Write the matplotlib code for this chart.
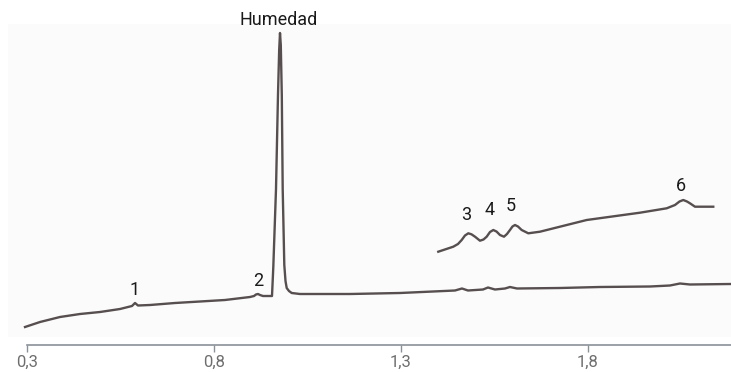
import matplotlib
matplotlib.use("Agg")
import matplotlib.pyplot as plt
from matplotlib.patches import Rectangle

plt.rcParams['font.family'] = ['Roboto', 'DejaVu Sans']

# Main chromatogram trace (time in min, signal arbitrary units)
main_time = [0.2947, 0.3348, 0.3882, 0.4417, 0.4952, 0.5487, 0.5807, 0.5888, 0.5968,
             0.6289, 0.6957, 0.7626, 0.8294, 0.8963, 0.9070, 0.9123, 0.9177, 0.9230,
             0.9310, 0.9551,
             0.9586, 0.9658, 0.9711, 0.9743, 0.9765, 0.9786, 0.9813, 0.9837, 0.9880,
             0.9912, 0.9944, 1.0005, 1.0078,
             1.0299, 1.1636, 1.2973, 1.4444, 1.4631, 1.4791, 1.5193,
             1.5326, 1.5513, 1.5781, 1.5914, 1.6102, 1.7251, 1.8321, 1.9658, 2.0193,
             2.0460, 2.0727, 2.1824]
main_signal = [18, 23, 28, 31, 33, 36, 39, 42, 39.5,
               40, 42, 43.5, 45, 48, 49, 50.5, 51, 50,
               49, 49,
               78, 156, 250, 295, 312, 300, 250, 156, 80,
               64, 57, 54, 52,
               51, 51, 52, 54.5, 56.5, 54.5, 55.5,
               57.5, 55.5, 56.5, 58, 56.5, 57, 58, 58.5, 59.5,
               61.5, 60.5, 61]

# Expanded (zoomed) trace of the later region
zoom_time = [1.3997, 1.4398, 1.4524, 1.4623, 1.4711, 1.4800, 1.4885, 1.4979, 1.5112,
             1.5206, 1.5291, 1.5380, 1.5468, 1.5553, 1.5647, 1.5754, 1.5834, 1.5914,
             1.5981, 1.6048, 1.6128, 1.6227, 1.6404, 1.6717, 1.7965, 1.9390, 2.0104,
             2.0326, 2.0447, 2.0548, 2.0647, 2.0727, 2.0861, 2.1350]
zoom_signal = [93.3, 98.3, 101, 105, 109.5, 111.7, 110.7, 108.3, 104.3,
               105.5, 108.3, 113, 115, 113.5, 110, 108.3, 111, 115,
               118.5, 120, 118.5, 115, 111.7, 113.3, 125, 132.3, 136.7,
               140, 143.5, 145, 143.5, 141.7, 138.3, 138.3]

# Peak labels
label_texts = ["1", "2", "Humedad", "3", "4", "5", "6"]
label_time = [0.5888, 0.9185, 0.9725, 1.4738, 1.538, 1.594, 2.049]
label_signal = [55, 64, 325, 130, 135, 139, 159]

tick_values = [0.3, 0.8, 1.3, 1.8]
tick_labels = ["0,3", "0,8", "1,3", "1,8"]

W, H = 731, 372
fig = plt.figure(figsize=(W / 100, H / 100), dpi=100)
fig.patch.set_facecolor('white')

ax = fig.add_axes([8 / W, (H - 345) / H, 723 / W, 345 / H])
ax.set_facecolor('none')
ax.set_xlim(0.2492, 2.1824)
ax.set_ylim(0, 345)

# light grey panel behind the trace
ax.add_patch(Rectangle((8 / W, (H - 337) / H), 723 / W, 313 / H,
                       transform=fig.transFigure, facecolor='#fbfbfb',
                       edgecolor='none', zorder=0, clip_on=False))

line_color = '#574f4f'
ax.plot(main_time, main_signal, color=line_color, lw=1.7, solid_joinstyle='round', zorder=2)
ax.plot(zoom_time, zoom_signal, color=line_color, lw=1.7, solid_joinstyle='round', zorder=2)

for txt, t, s in zip(label_texts, label_time, label_signal):
    ax.text(t, s, txt, ha='center', va='center', fontsize=13, color='#1a1a1a', zorder=3)

for side in ['top', 'right', 'left']:
    ax.spines[side].set_visible(False)
ax.spines['bottom'].set_color('#8a9197')
ax.spines['bottom'].set_linewidth(1.2)
ax.spines['bottom'].set_bounds(0.3, 2.1824)
ax.set_yticks([])
ax.set_xticks(tick_values)
ax.set_xticklabels(tick_labels)
ax.tick_params(axis='x', direction='out', length=5, width=1, color='#8a9197',
               labelcolor='#6e6e6e', labelsize=12, pad=2)

fig.savefig('out.png', dpi=100, facecolor='white')
